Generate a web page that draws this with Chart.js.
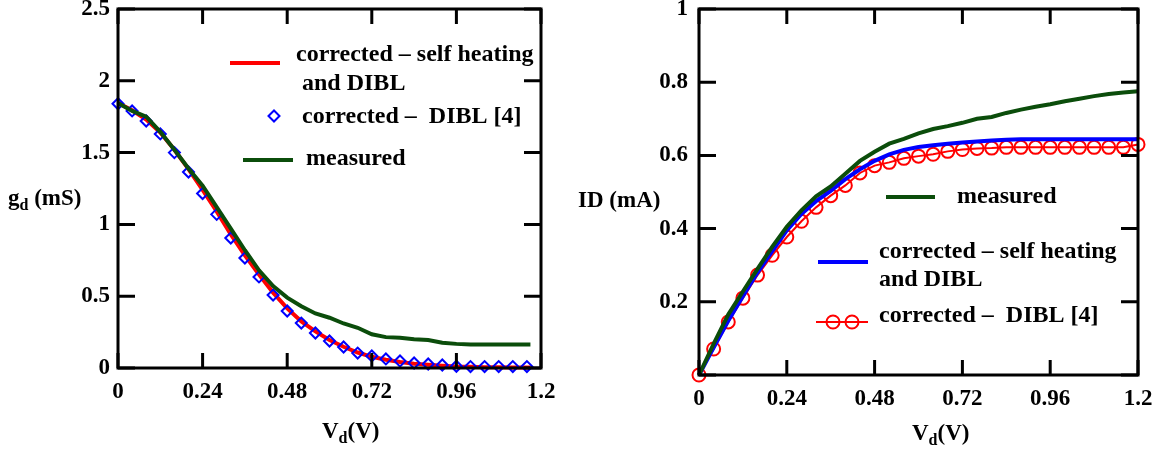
<!DOCTYPE html>
<html>
<head>
<meta charset="utf-8">
<script src="https://cdn.jsdelivr.net/npm/chart.js@4/dist/chart.umd.min.js"></script>
<style>
  html, body { margin: 0; padding: 0; background: #fff; }
  #wrap { position: relative; width: 1165px; height: 459px; }
  #left { position: absolute; left: 0; top: 0; }
  #right { position: absolute; left: 570px; top: 0; }
</style>
</head>
<body>
<div id="wrap">
  <canvas id="left" width="570" height="459"></canvas>
  <canvas id="right" width="595" height="459"></canvas>
</div>
<script>
// series names (legend text lines)
const nameSelfHeat = ['corrected \u2013 self heating', 'and DIBL'];
const nameDibl = ['corrected \u2013  DIBL [4]'];
const nameMeasured = ['measured'];

// left plot: gd (mS) vs Vd (V)
const gdMarkVd = [0, 0.04, 0.08, 0.12, 0.16, 0.2, 0.24, 0.28, 0.32, 0.36, 0.4, 0.44, 0.48, 0.52, 0.56,
  0.6, 0.64, 0.68, 0.72, 0.76, 0.8, 0.84, 0.88, 0.92, 0.96, 1.0, 1.04, 1.08, 1.12, 1.16];
const gdDibl = [1.84, 1.79, 1.72, 1.63, 1.50, 1.365, 1.215, 1.07, 0.905, 0.766, 0.634, 0.508, 0.397, 0.313, 0.244,
  0.188, 0.146, 0.104, 0.084, 0.063, 0.049, 0.035, 0.028, 0.021, 0.012, 0.01, 0.01, 0.01, 0.01, 0.01];
const gdLineVd = [0, 0.04, 0.08, 0.12, 0.16, 0.2, 0.24, 0.28, 0.32, 0.36, 0.4, 0.44, 0.48, 0.52, 0.56,
  0.6, 0.64, 0.68, 0.72, 0.76, 0.8, 0.84, 0.88, 0.92, 0.96, 1.0, 1.04, 1.08, 1.12, 1.17];
const gdSelfHeat = [1.845, 1.795, 1.73, 1.64, 1.52, 1.385, 1.24, 1.09, 0.93, 0.785, 0.65, 0.525, 0.415, 0.325, 0.255,
  0.195, 0.148, 0.108, 0.078, 0.058, 0.042, 0.03, 0.022, 0.015, 0.01, 0.008, 0.006, 0.005, 0.004, 0.003];
const gdMeasured = [1.845, 1.79, 1.75, 1.645, 1.52, 1.39, 1.27, 1.12, 0.97, 0.82, 0.68, 0.57, 0.49, 0.43, 0.38,
  0.35, 0.31, 0.28, 0.235, 0.215, 0.21, 0.2, 0.195, 0.176, 0.168, 0.163, 0.163, 0.163, 0.163, 0.163];

// right plot: ID (mA) vs Vd (V)
const idVd = [0, 0.04, 0.08, 0.12, 0.16, 0.2, 0.24, 0.28, 0.32, 0.36, 0.4, 0.44, 0.48, 0.52, 0.56,
  0.6, 0.64, 0.68, 0.72, 0.76, 0.8, 0.84, 0.88, 0.92, 0.96, 1.0, 1.04, 1.08, 1.12, 1.16, 1.2];
const idDibl = [0, 0.071, 0.145, 0.21, 0.273, 0.327, 0.377, 0.42, 0.458, 0.49, 0.518, 0.552, 0.572, 0.581, 0.592,
  0.598, 0.603, 0.611, 0.616, 0.619, 0.62, 0.622, 0.622, 0.622, 0.622, 0.622, 0.622, 0.622, 0.622, 0.622, 0.63];
const idSelfHeat = [0, 0.075, 0.148, 0.215, 0.28, 0.338, 0.395, 0.44, 0.475, 0.503, 0.535, 0.562, 0.585, 0.603, 0.615,
  0.623, 0.628, 0.632, 0.635, 0.638, 0.641, 0.643, 0.644, 0.644, 0.644, 0.644, 0.644, 0.644, 0.644, 0.644, 0.644];
const idMeasured = [0, 0.085, 0.165, 0.228, 0.29, 0.35, 0.405, 0.45, 0.488, 0.515, 0.55, 0.585, 0.61, 0.632, 0.645,
  0.66, 0.672, 0.68, 0.689, 0.70, 0.705, 0.716, 0.725, 0.733, 0.74, 0.748, 0.755, 0.762, 0.768, 0.772, 0.775];

const RED = '#ff0000';
const BLUE = '#0000ff';
const GREEN = '#0b4d0b';
const FONT = 'Liberation Serif';

function pts(xs, ys) {
  return xs.map((x, i) => ({ x: x, y: ys[i] }));
}

function fmt(v) {
  return String(Number(v.toFixed(2)));
}

// text with a subscript part: [['g', false], ['d', true], [' (mS)', false]]
function drawSubText(ctx, parts, x, y) {
  parts.forEach(p => {
    ctx.font = p[1] ? 'bold 16px ' + FONT : 'bold 23px ' + FONT;
    ctx.fillText(p[0], x, p[1] ? y + 5 : y);
    x += ctx.measureText(p[0]).width;
  });
}

// box, inward tick marks, legend and axis titles
const decor = {
  id: 'decor',
  afterDatasetsDraw(chart, args, opts) {
    const { ctx, chartArea: a, scales } = chart;
    const x = scales.x, y = scales.y;
    ctx.save();
    ctx.strokeStyle = '#000';
    ctx.lineWidth = 3;
    ctx.strokeRect(a.left, a.top, a.right - a.left, a.bottom - a.top);
    ctx.beginPath();
    y.ticks.forEach(t => {
      const py = y.getPixelForValue(t.value);
      ctx.moveTo(a.left, py); ctx.lineTo(a.left + 17, py);
      ctx.moveTo(a.right, py); ctx.lineTo(a.right - 17, py);
    });
    x.ticks.forEach(t => {
      const px = x.getPixelForValue(t.value);
      ctx.moveTo(px, a.bottom); ctx.lineTo(px, a.bottom - 15);
      ctx.moveTo(px, a.top); ctx.lineTo(px, a.top + 15);
    });
    ctx.stroke();

    // legend
    ctx.textBaseline = 'alphabetic';
    opts.legend.forEach(item => {
      const ds = chart.data.datasets[item.index];
      if (item.line) {
        ctx.strokeStyle = ds.borderColor;
        ctx.lineWidth = ds.borderWidth;
        ctx.beginPath();
        ctx.moveTo(item.line[0], item.line[2]);
        ctx.lineTo(item.line[1], item.line[2]);
        ctx.stroke();
      }
      (item.marks || []).forEach(m => {
        ctx.fillStyle = 'rgba(0,0,0,0)';
        ctx.strokeStyle = ds.pointBorderColor;
        ctx.lineWidth = ds.pointBorderWidth;
        Chart.helpers.drawPoint(ctx, {
          pointStyle: ds.pointStyle, radius: ds.pointRadius, borderWidth: ds.pointBorderWidth, rotation: 0
        }, m[0], m[1]);
      });
      ctx.fillStyle = '#000';
      ctx.font = 'bold 24px ' + FONT;
      item.text.forEach((s, i) => {
        ctx.fillText(ds.label[i], s[0], s[1]);
      });
    });

    // axis titles
    ctx.fillStyle = '#000';
    drawSubText(ctx, opts.yTitle.parts, opts.yTitle.x, opts.yTitle.y);
    drawSubText(ctx, [['V', false], ['d', true], ['(V)', false]], opts.xTitle.x, opts.xTitle.y);
    ctx.restore();
  }
};

function makeChart(id, datasets, geo, yMax, yStep, decorOpts, hideY0) {
  return new Chart(document.getElementById(id), {
    type: 'scatter',
    data: { datasets: datasets },
    options: {
      responsive: false,
      animation: false,
      devicePixelRatio: 1,
      events: [],
      layout: { padding: { top: geo.top, right: geo.right, left: 0, bottom: 0 } },
      plugins: { legend: { display: false }, tooltip: { enabled: false }, decor: decorOpts },
      scales: {
        x: {
          type: 'linear', min: 0, max: 1.2,
          grid: { display: false, drawTicks: false },
          border: { display: false },
          ticks: {
            stepSize: 0.24, padding: 10, color: '#000', maxRotation: 0,
            font: { family: FONT, size: 23, weight: 'bold' },
            callback: v => fmt(v)
          },
          afterFit: s => { s.height = geo.xh; s.paddingLeft = 0; s.paddingRight = 0; }
        },
        y: {
          type: 'linear', min: 0, max: yMax,
          grid: { display: false, drawTicks: false },
          border: { display: false },
          ticks: {
            stepSize: yStep, padding: geo.yPad, color: '#000',
            font: { family: FONT, size: 23, weight: 'bold' },
            callback: v => (hideY0 && v === 0) ? '' : fmt(v)
          },
          afterFit: s => { s.width = geo.yw; s.paddingTop = 0; s.paddingBottom = 0; }
        }
      }
    },
    plugins: [decor]
  });
}

makeChart('left', [
  {
    label: nameMeasured, data: pts(gdLineVd, gdMeasured), order: 0, clip: false,
    showLine: true, borderColor: GREEN, borderWidth: 4, pointRadius: 0, tension: 0
  },
  {
    label: nameDibl, data: pts(gdMarkVd, gdDibl), order: 1, clip: false,
    showLine: false, pointStyle: 'rectRot', pointRadius: 5.5, pointBorderWidth: 2,
    pointBorderColor: BLUE, pointBackgroundColor: 'rgba(0,0,0,0)', borderColor: BLUE
  },
  {
    label: nameSelfHeat, data: pts(gdLineVd, gdSelfHeat), order: 2, clip: false,
    showLine: true, borderColor: RED, borderWidth: 4, pointRadius: 0, tension: 0
  }
], { top: 9, right: 29, xh: 91, yw: 118, yPad: 8 }, 2.5, 0.5, {
  legend: [
    { index: 2, line: [230, 280, 63], text: [[296, 61], [302, 90]] },
    { index: 1, marks: [[274, 116]], text: [[302, 123]] },
    { index: 0, line: [243, 293, 160], text: [[306, 165]] }
  ],
  yTitle: { parts: [['g', false], ['d', true], [' (mS)', false]], x: 8, y: 205 },
  xTitle: { x: 322, y: 438 }
}, false);

makeChart('right', [
  {
    label: nameMeasured, data: pts(idVd, idMeasured), order: 0, clip: false,
    showLine: true, borderColor: GREEN, borderWidth: 4, pointRadius: 0, tension: 0
  },
  {
    label: nameSelfHeat, data: pts(idVd, idSelfHeat), order: 1, clip: false,
    showLine: true, borderColor: BLUE, borderWidth: 4, pointRadius: 0, tension: 0
  },
  {
    label: nameDibl, data: pts(idVd, idDibl), order: 2, clip: false,
    showLine: true, borderColor: RED, borderWidth: 2, pointStyle: 'circle', pointRadius: 6.5,
    pointBorderWidth: 2, pointBorderColor: RED, pointBackgroundColor: 'rgba(0,0,0,0)', tension: 0
  }
], { top: 9, right: 27, xh: 84, yw: 129, yPad: 11 }, 1, 0.2, {
  legend: [
    { index: 0, line: [316, 365, 197], text: [[387, 203]] },
    { index: 1, line: [248, 298, 262], text: [[309, 258], [309, 286]] },
    { index: 2, line: [246, 298, 322], marks: [[263, 322], [282, 322]], text: [[309, 322]] }
  ],
  yTitle: { parts: [['ID (mA)', false]], x: 8, y: 207 },
  xTitle: { x: 342, y: 440 }
}, true);
</script>
</body>
</html>
